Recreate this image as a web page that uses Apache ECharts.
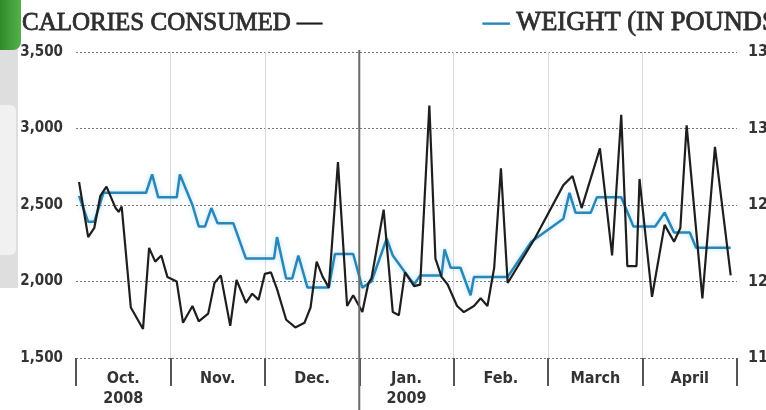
<!DOCTYPE html>
<html>
<head>
<meta charset="utf-8">
<script src="https://cdn.jsdelivr.net/npm/echarts@6/dist/echarts.min.js"></script>
<style>
  html, body { margin: 0; padding: 0; background: #ffffff; }
  #chart { width: 766px; height: 410px; }
</style>
</head>
<body>
<div id="chart"></div>
<script>
// Month columns (equal width), first column starts October 2008
const monthLabels = ['Oct.\n2008', 'Nov.', 'Dec.', 'Jan.\n2009', 'Feb.', 'March', 'April'];
const firstYear = 2008, firstMonth = 10;

// Left axis: calories per day
const calorieTicks = [1500, 2000, 2500, 3000, 3500];
// Right axis: body weight in pounds
const weightTicks = [115, 120, 125, 130, 135];

const calorieDates = [
  '2008-10-02','2008-10-05','2008-10-07','2008-10-09','2008-10-11','2008-10-14','2008-10-15','2008-10-16',
  '2008-10-19','2008-10-21','2008-10-23','2008-10-25','2008-10-27','2008-10-29','2008-10-31',
  '2008-11-03','2008-11-05','2008-11-08','2008-11-10','2008-11-13','2008-11-15','2008-11-17','2008-11-20',
  '2008-11-22','2008-11-25','2008-11-27','2008-11-29',
  '2008-12-01','2008-12-03','2008-12-05','2008-12-08','2008-12-11','2008-12-14','2008-12-16','2008-12-18',
  '2008-12-20','2008-12-22','2008-12-25','2008-12-28','2008-12-30',
  '2009-01-02','2009-01-04','2009-01-05','2009-01-09','2009-01-12','2009-01-14','2009-01-16','2009-01-18',
  '2009-01-19','2009-01-21','2009-01-24','2009-01-26','2009-01-28','2009-01-30',
  '2009-02-02','2009-02-04','2009-02-07','2009-02-09','2009-02-11','2009-02-13','2009-02-15','2009-02-17',
  '2009-02-25',
  '2009-03-06','2009-03-09','2009-03-12','2009-03-18','2009-03-22','2009-03-25','2009-03-27','2009-03-30',
  '2009-03-31',
  '2009-04-04','2009-04-08','2009-04-11','2009-04-13','2009-04-15','2009-04-20','2009-04-24','2009-04-29'
];
const calorieValues = [
  2650, 2290, 2350, 2560, 2620, 2480, 2455, 2490,
  1830, 1760, 1690, 2220, 2130, 2170, 2030,
  2000, 1730, 1840, 1740, 1790, 1990, 2040, 1710,
  2010, 1860, 1920, 1880,
  2050, 2060, 1950, 1750, 1700, 1730, 1830, 2130,
  2030, 1960, 2780, 1840, 1910,
  1800, 1990, 2020, 2470, 1800, 1780, 2060, 2000,
  1970, 1980, 3150, 2150, 2030, 1980,
  1840, 1800, 1840, 1890, 1840, 2090, 2740, 1990,
  2280,
  2630, 2690, 2480, 2870, 2170, 3090, 2100, 2100,
  2670,
  1900, 2370, 2260, 2350, 3020, 1890, 2880, 2040
];

const weightDates = [
  '2008-10-02','2008-10-05','2008-10-07','2008-10-10','2008-10-24','2008-10-26','2008-10-28',
  '2008-11-03','2008-11-04','2008-11-08','2008-11-10','2008-11-12','2008-11-14','2008-11-16','2008-11-21',
  '2008-11-25',
  '2008-12-04','2008-12-05','2008-12-08','2008-12-10','2008-12-12','2008-12-15','2008-12-22','2008-12-24',
  '2008-12-30',
  '2009-01-02','2009-01-05','2009-01-10','2009-01-12','2009-01-16','2009-01-19','2009-01-21','2009-01-28',
  '2009-01-29','2009-01-31',
  '2009-02-03','2009-02-06','2009-02-07','2009-02-17','2009-02-24',
  '2009-03-06','2009-03-08','2009-03-10','2009-03-15','2009-03-17','2009-03-25','2009-03-29',
  '2009-04-05','2009-04-08','2009-04-11','2009-04-16','2009-04-18','2009-04-29'
];
const weightValues = [
  125.6, 123.9, 123.9, 125.8, 125.8, 127.0, 125.5,
  125.5, 127.0, 125.0, 123.6, 123.6, 124.8, 123.8, 123.8,
  121.5,
  121.5, 122.9, 120.2, 120.2, 121.7, 119.6, 119.6, 121.8,
  121.8,
  119.6, 120.0, 122.8, 121.7, 120.6, 119.8, 120.4, 120.4,
  122.1, 120.9,
  120.9, 119.1, 120.3, 120.3, 122.6,
  124.1, 125.8, 124.5, 124.5, 125.5, 125.5, 123.6,
  123.6, 124.5, 123.2, 123.2, 122.2, 122.2
];

// Every month gets the same width; a date maps to monthIndex + fraction of its month
function monthPosition(dateStr) {
  const [y, m, d] = dateStr.split('-').map(Number);
  const index = (y - firstYear) * 12 + (m - firstMonth);
  const daysInMonth = new Date(Date.UTC(y, m, 0)).getUTCDate();
  return index + (d - 1) / daysInMonth;
}
const pair = (dates, values) => dates.map((d, i) => [monthPosition(d), values[i]]);

const labelFont = '"Liberation Sans Narrow", "DejaVu Sans Condensed", "Liberation Sans", sans-serif';
const titleFont = '"Liberation Serif", "DejaVu Serif", serif';
const inkBlack = '#1e1e1e';
const weightBlue = '#2b86b8';
const titleInk = '#2e2e2e';

const chart = echarts.init(document.getElementById('chart'), null, { renderer: 'canvas' });

const titleStyle = (size, swatchKey, swatchColor) => ({
  fontFamily: titleFont, fontSize: size, fontWeight: 'normal', color: titleInk,
  textBorderColor: titleInk, textBorderWidth: 0.8,
  rich: { [swatchKey]: { fontFamily: titleFont, fontSize: size, color: swatchColor,
    textBorderColor: swatchColor, textBorderWidth: 0.8 } }
});

const option = {
  backgroundColor: '#ffffff',
  animation: false,
  title: [
    { left: 17, top: 6, text: 'CALORIES CONSUMED {k|—}', textStyle: titleStyle(25, 'k', inkBlack) },
    { left: 478, top: 5, text: '{b|—} WEIGHT (IN POUNDS)', textStyle: titleStyle(26.5, 'b', weightBlue) }
  ],
  grid: { left: 76, right: 29, top: 52, bottom: 52, containLabel: false, outerBoundsMode: 'none' },
  xAxis: [
    {
      type: 'category',
      data: monthLabels,
      boundaryGap: true,
      axisLine: { show: false },
      axisTick: { show: true, interval: 0, length: 28, lineStyle: { color: '#555', width: 2 } },
      axisLabel: {
        interval: 0, margin: 11, color: '#333', fontFamily: labelFont, fontWeight: 'bold',
        fontSize: 16, lineHeight: 20
      },
      splitLine: { show: true, interval: 0, showMinLine: false, showMaxLine: false,
        lineStyle: { color: '#d9d9d9', width: 1 } }
    },
    {
      type: 'value', min: 0, max: monthLabels.length, show: false
    }
  ],
  yAxis: [
    {
      type: 'value', position: 'left',
      min: calorieTicks[0], max: calorieTicks[calorieTicks.length - 1], interval: 500,
      axisLine: { show: false }, axisTick: { show: false },
      axisLabel: {
        margin: 13, color: '#333', fontFamily: labelFont, fontWeight: 'bold', fontSize: 15,
        formatter: v => v.toLocaleString('en-US')
      },
      splitLine: { show: true, lineStyle: { color: '#777', width: 1, type: [2, 2] } }
    },
    {
      type: 'value', position: 'right',
      min: weightTicks[0], max: weightTicks[weightTicks.length - 1], interval: 5,
      axisLine: { show: false }, axisTick: { show: false },
      axisLabel: { margin: 11, color: '#333', fontFamily: labelFont, fontWeight: 'bold', fontSize: 16 },
      splitLine: { show: false }
    }
  ],
  series: [
    {
      name: 'Weight', type: 'line', xAxisIndex: 1, yAxisIndex: 1,
      data: pair(weightDates, weightValues),
      showSymbol: false, symbol: 'none',
      lineStyle: { color: weightBlue, width: 2.5, shadowColor: 'rgba(110,200,240,0.55)', shadowBlur: 5 },
      z: 3
    },
    {
      name: 'Calories', type: 'line', xAxisIndex: 1, yAxisIndex: 0,
      data: pair(calorieDates, calorieValues),
      showSymbol: false, symbol: 'none',
      lineStyle: { color: inkBlack, width: 2.2 },
      z: 4
    }
  ]
};
chart.setOption(option);

// Year divider at the start of January, running from the top of the grid to the page bottom,
// plus the page chrome along the left edge
const yearX = chart.convertToPixel({ xAxisIndex: 1 }, 3);
const gridTop = chart.convertToPixel({ yAxisIndex: 0 }, calorieTicks[calorieTicks.length - 1]);
chart.setOption({
  graphic: [
    { type: 'line', z: 10, shape: { x1: yearX, y1: gridTop - 2, x2: yearX, y2: 410 },
      style: { stroke: '#6a6a6a', lineWidth: 2 } },
    { type: 'rect', z: 1, shape: { x: 0, y: 48, width: 18, height: 240 },
      style: { fill: '#dedede' } },
    { type: 'rect', z: 1, shape: { x: 0, y: 105, width: 16, height: 150, r: [0, 6, 6, 0] },
      style: { fill: '#f1f1f1' } },
    { type: 'rect', z: 2, shape: { x: 0, y: 0, width: 21, height: 50, r: [0, 0, 8, 0] },
      style: { fill: new echarts.graphic.LinearGradient(0, 0, 1, 0, [
        { offset: 0, color: '#2f8a2a' }, { offset: 1, color: '#56b04a' }
      ]) } }
  ]
});
</script>
</body>
</html>
